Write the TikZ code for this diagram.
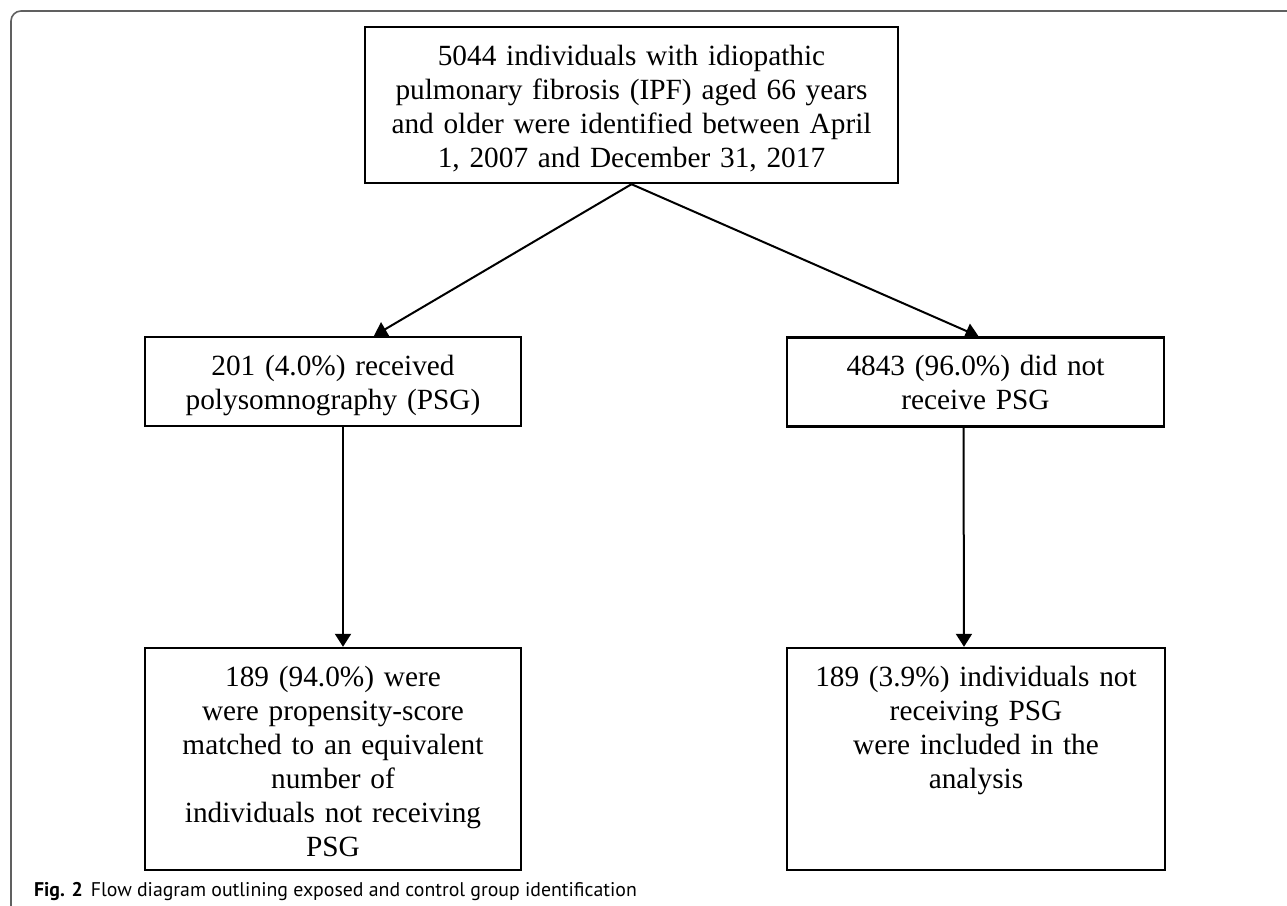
\documentclass[tikz,border=0pt]{standalone}
\usepackage{fontspec}
\setmainfont{Liberation Serif}
\newfontfamily\capfont{PT Sans}
\usetikzlibrary{arrows.meta}

\begin{document}
\begin{tikzpicture}[x=0.5pt, y=-0.5pt,
    flowbox/.style={draw, line width=1.2pt, inner xsep=0pt, inner ysep=0pt, align=center,
        font=\fontsize{14.65pt}{17pt}\selectfont, text height=19pt},
    flowarrow/.style={-{Triangle[length=6.5pt, width=8pt]}, line width=1pt}]
    \clip (0,0) rectangle (1287,906);
    % frame of the figure, open at the right and the bottom
    \draw[gray!75!black, line width=0.8pt, rounded corners=5pt] (11,11) rectangle (1330,950);

    \node[flowbox, text width=266.5pt, text depth=59pt] (cohort) at (631.5,105)
        {5044 individuals with idiopathic\\ pulmonary fibrosis (IPF) aged 66 years\\
         and older were identified between April\\ 1, 2007 and December 31, 2017};
    \node[flowbox, text width=188pt, text depth=25.5pt] (psg) at (333,381.5)
        {201 (4.0\%) received\\ polysomnography (PSG)};
    \node[flowbox, text width=188.5pt, text depth=25.5pt] (nopsg) at (975.5,382)
        {4843 (96.0\%) did not\\ receive PSG};
    \node[flowbox, text width=188pt, text depth=92pt] (matched) at (333,759)
        {189 (94.0\%) were\\ were propensity-score\\ matched to an equivalent\\ number of\\
         individuals not receiving\\ PSG};
    \node[flowbox, text width=189pt, text depth=92pt] (ctrl) at (976,759)
        {189 (3.9\%) individuals not\\ receiving PSG\\ were included in the\\ analysis};

    \draw[flowarrow] (cohort.south) -- ([xshift=20.5pt]psg.north);
    \draw[flowarrow] (cohort.south) -- ([xshift=1.5pt]nopsg.north);
    \draw[flowarrow] ([xshift=5pt]psg.south) -- ([xshift=5pt]matched.north);
    \draw[flowarrow] ([xshift=-6pt]nopsg.south) -- ([xshift=-6pt]ctrl.north);

    \node[anchor=base west, font=\capfont\fontsize{9.9pt}{11pt}\selectfont] (caption) at (27,896)
        {\textbf{Fig. 2}\hspace{4pt}Flow diagram outlining exposed and control group identification};
\end{tikzpicture}
\end{document}
